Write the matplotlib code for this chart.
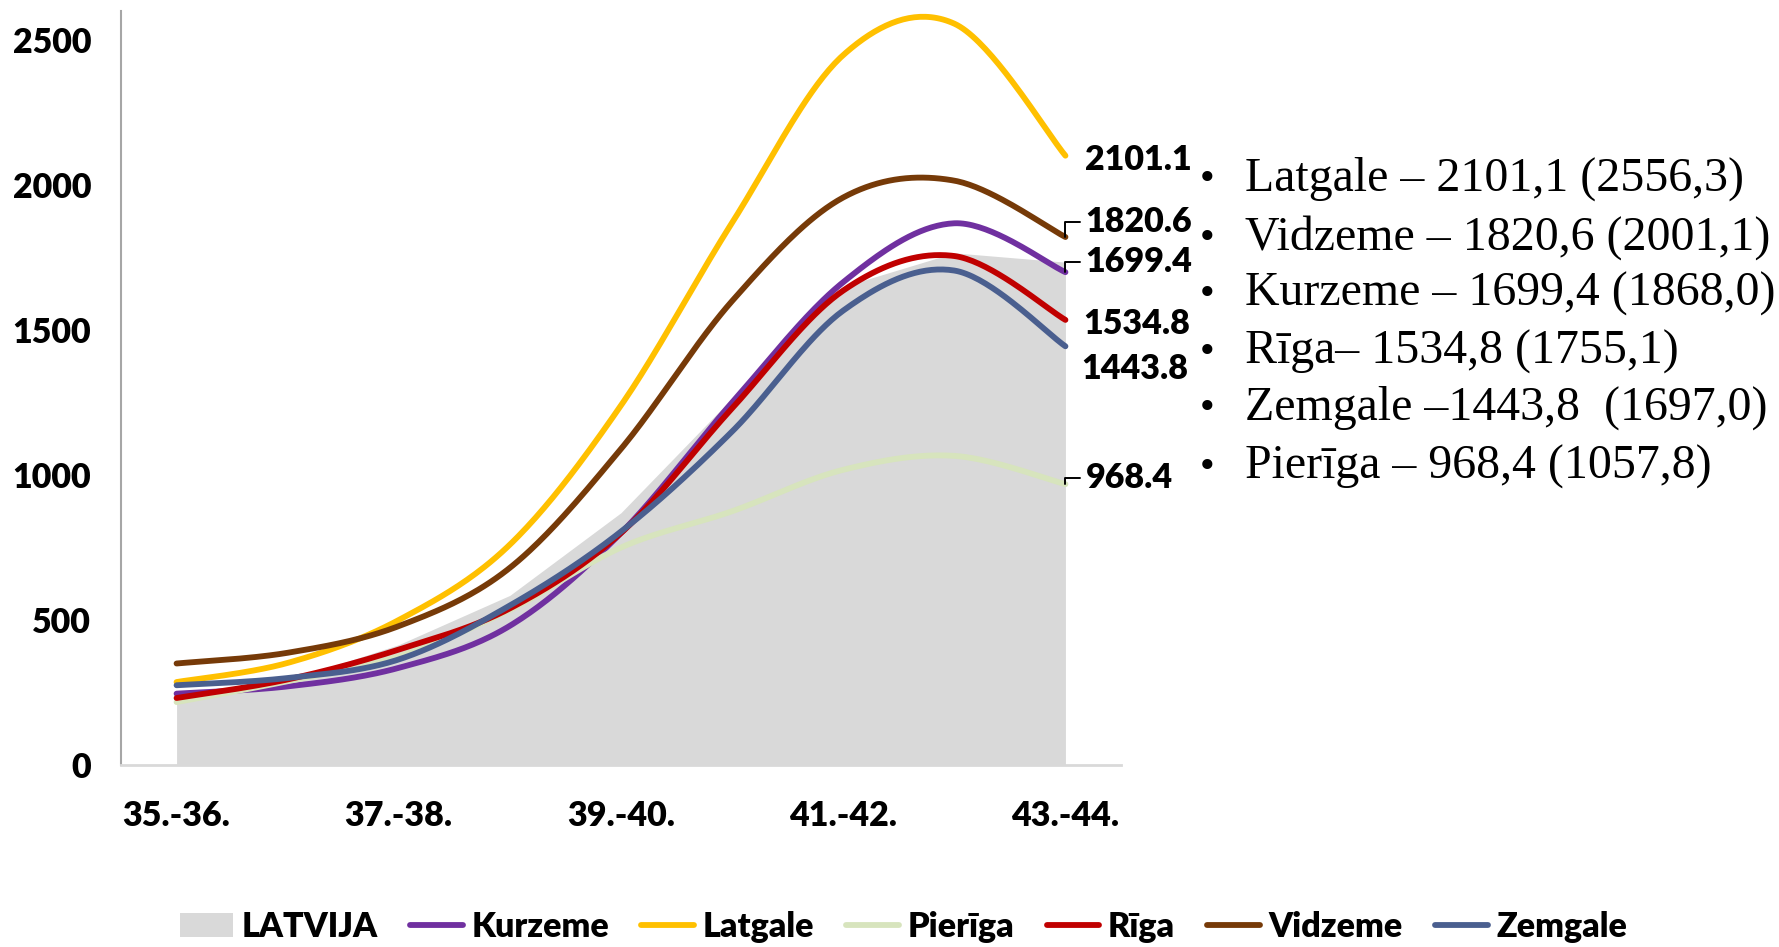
import numpy as np
import matplotlib.pyplot as plt
from matplotlib.patches import Patch
from matplotlib.lines import Line2D

# data
periods = ['35.-36.', '36.-37.', '37.-38.', '38.-39.', '39.-40.',
           '40.-41.', '41.-42.', '42.-43.', '43.-44.']
latvija = [225, 290, 415, 585, 870, 1265, 1650, 1766, 1734]
kurzeme = [246, 271, 335, 480, 800, 1250, 1665, 1868.0, 1699.4]
latgale = [286, 352, 500, 760, 1240, 1870, 2448, 2556.3, 2101.1]
pieriga = [217, 289, 375, 535, 750, 875, 1018, 1066, 968.4]
riga = [231, 295, 398, 540, 800, 1230, 1636, 1755.1, 1534.8]
vidzeme = [350, 387, 479, 680, 1090, 1600, 1957, 2015, 1820.6]
zemgale = [275, 300, 364, 550, 805, 1150, 1567, 1705, 1443.8]

names = ['Kurzeme', 'Latgale', 'Pierīga', 'Rīga', 'Vidzeme', 'Zemgale']
series = [kurzeme, latgale, pieriga, riga, vidzeme, zemgale]
colors = ['#7030A0', '#FFC000', '#D7E4BD', '#C00000', '#763A08', '#4A5F8F']

notes = ['Latgale – 2101,1 (2556,3)', 'Vidzeme – 1820,6 (2001,1)',
         'Kurzeme – 1699,4 (1868,0)', 'Rīga– 1534,8 (1755,1)',
         'Zemgale –1443,8  (1697,0)', 'Pierīga – 968,4 (1057,8)']

W, H = 1779, 947
PT = 72 / 100  # px -> pt
FONT = 'Lato'
WT = 'heavy'
FS = 24.5


def smooth(y, n=40):
    # Excel-like smoothed line (Catmull-Rom Bezier through the points)
    y = np.asarray(y, float)
    x = np.arange(len(y), dtype=float)
    xs, ys = [], []
    for i in range(len(y) - 1):
        p0 = max(i - 1, 0)
        p3 = min(i + 2, len(y) - 1)
        t = np.linspace(0, 1, n)
        c1x = x[i] + (x[i + 1] - x[p0]) / 6
        c1y = y[i] + (y[i + 1] - y[p0]) / 6
        c2x = x[i + 1] - (x[p3] - x[i]) / 6
        c2y = y[i + 1] - (y[p3] - y[i]) / 6
        b = [(1 - t) ** 3, 3 * (1 - t) ** 2 * t, 3 * (1 - t) * t ** 2, t ** 3]
        xs.append(b[0] * x[i] + b[1] * c1x + b[2] * c2x + b[3] * x[i + 1])
        ys.append(b[0] * y[i] + b[1] * c1y + b[2] * c2y + b[3] * y[i + 1])
    return np.concatenate(xs), np.concatenate(ys)


fig = plt.figure(figsize=(W / 100, H / 100), dpi=100)
ax = fig.add_axes([121 / W, (H - 765) / H, 1000 / W, 754 / H])

x = np.arange(len(periods))
ax.fill_between(x, 0, latvija, color='#D9D9D9', lw=0, zorder=1)
for vals, c in zip(series, colors):
    xs, ys = smooth(vals)
    ax.plot(xs, ys, color=c, lw=4.2, solid_capstyle='round', zorder=3)

ax.set_xlim(-0.5, len(periods) - 0.5)
ax.set_ylim(0, 2600)
ax.set_yticks(range(0, 2501, 500))
ax.set_xticks(x[::2])
ax.set_xticklabels(periods[::2])
for t in ax.get_xticklabels() + ax.get_yticklabels():
    t.set_fontfamily(FONT)
    t.set_fontweight(WT)
    t.set_fontsize(FS)
ax.tick_params(axis='both', length=0)
ax.tick_params(axis='y', pad=30 * PT)
ax.tick_params(axis='x', pad=35 * PT)
for s in ['top', 'right']:
    ax.spines[s].set_visible(False)
ax.spines['left'].set_color('#A6A6A6')
ax.spines['left'].set_linewidth(1.5)
ax.spines['bottom'].set_color('#D9D9D9')
ax.spines['bottom'].set_linewidth(2)

# end-point labels: (dx, dy) in px, leader line or not
offsets = {'Latgale': (20, -4, False), 'Vidzeme': (20, 15, True),
           'Kurzeme': (20, 10, True), 'Rīga': (18, -4, False),
           'Zemgale': (16, -23, False), 'Pierīga': (20, 6, True)}
for name, vals in zip(names, series):
    dx, dy, lead = offsets[name]
    kw = {}
    if lead:
        kw['arrowprops'] = dict(arrowstyle='-', color='black', lw=1.4,
                                connectionstyle='angle,angleA=0,angleB=90,rad=0',
                                relpos=(0, 0.5), shrinkA=2, shrinkB=0)
    ax.annotate(f'{vals[-1]:.1f}', xy=(x[-1], vals[-1]),
                xytext=(dx * PT, dy * PT), textcoords='offset points',
                ha='left', va='center', fontfamily=FONT, fontweight=WT,
                fontsize=FS, zorder=5, **kw)

# bullet notes on the right
ys_px = [179, 238, 294, 352, 408, 467]
for yy, txt in zip(ys_px, notes):
    fig.text(1207 / W, 1 - yy / H, '•', ha='center', va='center',
             fontsize=25, fontfamily='DejaVu Sans')
    fig.text(1245 / W, 1 - yy / H, txt, ha='left', va='center',
             fontsize=34.5, fontfamily='Liberation Serif')

handles = [Patch(facecolor='#D9D9D9', edgecolor='none', label='LATVIJA')]
for name, c in zip(names, colors):
    handles.append(Line2D([0], [0], color=c, lw=4.2, solid_capstyle='round', label=name))
fig.legend(handles=handles, loc='center', bbox_to_anchor=(0.508, 1 - 927 / H),
           ncol=7, frameon=False, handlelength=1.55, handletextpad=0.25,
           columnspacing=0.95, prop=dict(family=FONT, weight=WT, size=FS))

fig.savefig('out.png', dpi=100)
